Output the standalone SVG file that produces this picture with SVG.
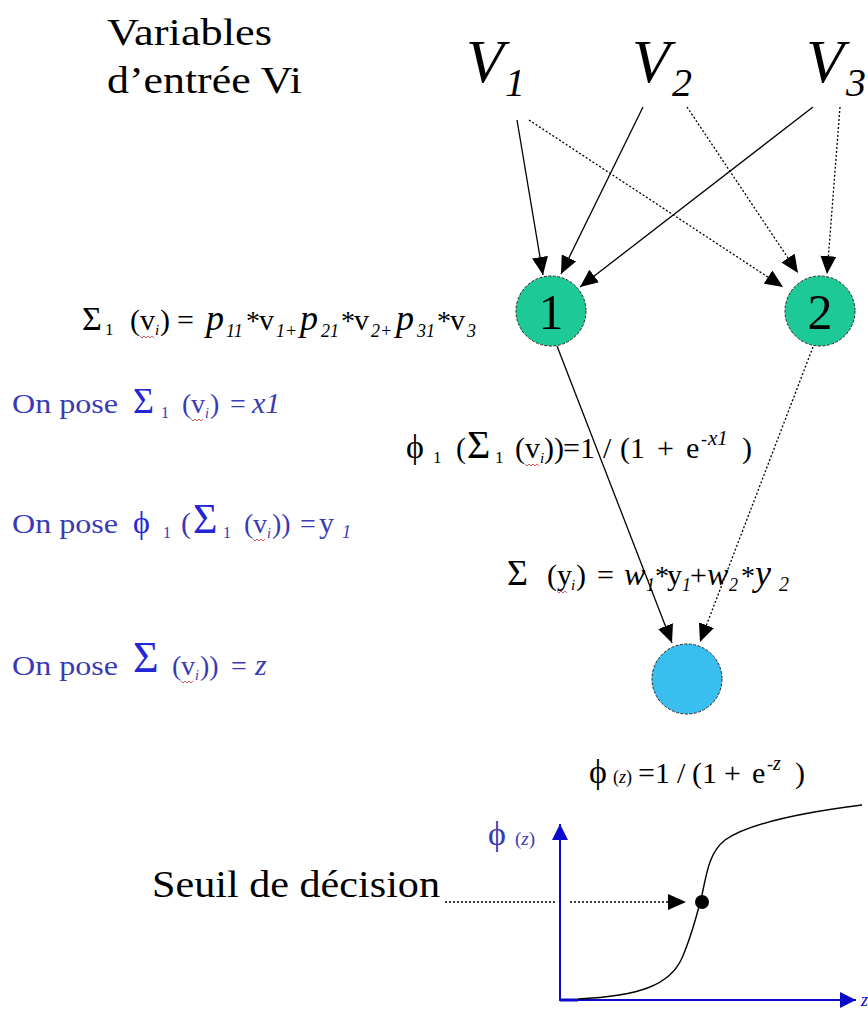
<svg xmlns="http://www.w3.org/2000/svg" width="868" height="1009" viewBox="0 0 868 1009">
<style>
.t{font-family:"Liberation Serif","Times New Roman",serif;}
.it{font-style:italic}
.bl{fill:#3a3ab5}
.bs{fill:#2525d8}
.k{fill:#000}
.solid{stroke:#000;stroke-width:1.3;fill:none}
.dot{stroke:#000;stroke-width:1.3;stroke-dasharray:2 2;fill:none}
.axis{stroke:#0a0acc;stroke-width:2;fill:none}
.wavy{stroke:#d04848;stroke-width:0.9;fill:none}
.node{stroke:#222;stroke-width:1;stroke-dasharray:3 1.5}
</style>
<defs>
<marker id="ah" markerWidth="18" markerHeight="16" refX="18" refY="8" orient="auto" markerUnits="userSpaceOnUse"><path d="M0,0 L18,8 L0,16 Z" fill="#000"/></marker>
<marker id="ahb" markerWidth="16" markerHeight="16" refX="16" refY="8" orient="auto" markerUnits="userSpaceOnUse"><path d="M0,0 L16,8 L0,16 Z" fill="#0a0acc"/></marker>
</defs>
<rect width="868" height="1009" fill="#fff"/>

<g id="title">
<text class="t k" x="107" y="45" font-size="38" textLength="165" lengthAdjust="spacingAndGlyphs">Variables</text>
<text class="t k" x="107" y="93" font-size="38" textLength="195" lengthAdjust="spacingAndGlyphs">d’entrée Vi</text>
</g>

<g id="V1"><text class="t it k" font-size="62"><tspan x="466" y="82">V</tspan><tspan x="505" y="96" font-size="40">1</tspan></text></g>
<g id="V2"><text class="t it k" font-size="62"><tspan x="632" y="82">V</tspan><tspan x="672" y="96" font-size="40">2</tspan></text></g>
<g id="V3"><text class="t it k" font-size="62"><tspan x="806" y="82">V</tspan><tspan x="846" y="96" font-size="40">3</tspan></text></g>

<g id="connectors">
<line class="solid" x1="517" y1="120" x2="543" y2="275" marker-end="url(#ah)"/>
<line class="dot" x1="529" y1="120" x2="783" y2="287" marker-end="url(#ah)"/>
<line class="solid" x1="643" y1="107" x2="561" y2="274" marker-end="url(#ah)"/>
<line class="dot" x1="687" y1="107" x2="798" y2="273" marker-end="url(#ah)"/>
<line class="solid" x1="813" y1="107" x2="580" y2="287" marker-end="url(#ah)"/>
<line class="dot" x1="840" y1="107" x2="827" y2="274" marker-end="url(#ah)"/>
<line class="solid" x1="557" y1="346" x2="672" y2="643" marker-end="url(#ah)"/>
<line class="dot" x1="813" y1="347" x2="700" y2="642" marker-end="url(#ah)"/>
<line class="dot" x1="445" y1="902" x2="556" y2="902"/>
<line class="dot" x1="570" y1="902" x2="686" y2="902" marker-end="url(#ah)"/>
</g>

<g id="node1"><circle class="node" cx="551" cy="311" r="35" fill="#1ec998"/><text class="t k" x="551" y="329" font-size="50" text-anchor="middle">1</text></g>
<g id="node2"><circle class="node" cx="820" cy="311" r="35" fill="#1ec998"/><text class="t k" x="820" y="329" font-size="50" text-anchor="middle">2</text></g>
<g id="output"><circle class="node" cx="687" cy="679" r="35" fill="#38bff0"/></g>

<g id="eq-sum1">
<text class="t k">
<tspan x="82" y="330" font-size="34">Σ</tspan>
<tspan x="105" y="335" font-size="17">1</tspan>
<tspan x="130" y="330" font-size="30">(</tspan>
<tspan x="140" y="330" font-size="30">v</tspan>
<tspan x="155" y="335" font-size="15" class="it">i</tspan>
<tspan x="160" y="330" font-size="30">)</tspan>
<tspan x="177" y="330" font-size="30">=</tspan>
<tspan x="206" y="330" font-size="36" class="it">p</tspan>
<tspan x="226" y="337" font-size="18" class="it">11</tspan>
<tspan x="246" y="330" font-size="28">*</tspan>
<tspan x="259" y="330" font-size="30">v</tspan>
<tspan x="276" y="337" font-size="18" class="it">1+</tspan>
<tspan x="300" y="330" font-size="36" class="it">p</tspan>
<tspan x="321" y="337" font-size="18" class="it">21</tspan>
<tspan x="341" y="330" font-size="28">*</tspan>
<tspan x="354" y="330" font-size="30">v</tspan>
<tspan x="371" y="337" font-size="18" class="it">2+</tspan>
<tspan x="396" y="330" font-size="36" class="it">p</tspan>
<tspan x="417" y="337" font-size="18" class="it">31</tspan>
<tspan x="437" y="330" font-size="28">*</tspan>
<tspan x="450" y="330" font-size="30">v</tspan>
<tspan x="467" y="337" font-size="18" class="it">3</tspan>
</text>
</g>

<g id="pose1">
<text class="t bl" x="12" y="413" font-size="28" textLength="106" lengthAdjust="spacingAndGlyphs">On pose</text>
<text class="t bl">
<tspan x="133" y="413" font-size="36" class="bs">Σ</tspan>
<tspan x="161" y="418" font-size="16">1</tspan>
<tspan x="182" y="413" font-size="28">(</tspan>
<tspan x="191" y="413" font-size="28">v</tspan>
<tspan x="205" y="418" font-size="14" class="it">i</tspan>
<tspan x="210" y="413" font-size="28">)</tspan>
<tspan x="230" y="413" font-size="28">=</tspan>
<tspan x="252" y="413" font-size="30" class="it">x1</tspan>
</text>
</g>

<g id="pose2">
<text class="t bl" x="12" y="533" font-size="28" textLength="106" lengthAdjust="spacingAndGlyphs">On pose</text>
<text class="t bl">
<tspan x="133" y="533" font-size="32" class="bs">ϕ</tspan>
<tspan x="163" y="538" font-size="16">1</tspan>
<tspan x="181" y="533" font-size="30">(</tspan>
<tspan x="193" y="533" font-size="42" class="bs">Σ</tspan>
<tspan x="223" y="538" font-size="16">1</tspan>
<tspan x="244" y="533" font-size="28">(</tspan>
<tspan x="253" y="533" font-size="28">v</tspan>
<tspan x="267" y="538" font-size="14" class="it">i</tspan>
<tspan x="272" y="533" font-size="28">))</tspan>
<tspan x="300" y="533" font-size="28">=</tspan>
<tspan x="319" y="533" font-size="30">y</tspan>
<tspan x="342" y="538" font-size="18" class="it">1</tspan>
</text>
</g>

<g id="pose3">
<text class="t bl" x="12" y="675" font-size="28" textLength="106" lengthAdjust="spacingAndGlyphs">On pose</text>
<text class="t bl">
<tspan x="133" y="672" font-size="44" class="bs">Σ</tspan>
<tspan x="172" y="675" font-size="28">(</tspan>
<tspan x="181" y="675" font-size="28">v</tspan>
<tspan x="195" y="680" font-size="14" class="it">i</tspan>
<tspan x="200" y="675" font-size="28">))</tspan>
<tspan x="231" y="675" font-size="28">=</tspan>
<tspan x="255" y="675" font-size="30" class="it">z</tspan>
</text>
</g>

<g id="eq-phi1">
<text class="t k">
<tspan x="406" y="458" font-size="34">ϕ</tspan>
<tspan x="433" y="463" font-size="17">1</tspan>
<tspan x="456" y="458" font-size="30">(</tspan>
<tspan x="467" y="458" font-size="40">Σ</tspan>
<tspan x="495" y="463" font-size="17">1</tspan>
<tspan x="515" y="458" font-size="30">(</tspan>
<tspan x="525" y="458" font-size="30">v</tspan>
<tspan x="540" y="463" font-size="15" class="it">i</tspan>
<tspan x="544" y="458" font-size="30">))</tspan>
<tspan x="563" y="458" font-size="30">=</tspan>
<tspan x="580" y="458" font-size="30">1</tspan>
<tspan x="603" y="458" font-size="30">/</tspan>
<tspan x="620" y="458" font-size="30">(</tspan>
<tspan x="630" y="458" font-size="30">1</tspan>
<tspan x="657" y="458" font-size="30">+</tspan>
<tspan x="686" y="458" font-size="30">e</tspan>
<tspan x="701" y="445" font-size="18">-</tspan>
<tspan x="708" y="445" font-size="21" class="it">x1</tspan>
<tspan x="742" y="458" font-size="30">)</tspan>
</text>
</g>

<g id="eq-sum2">
<text class="t k">
<tspan x="507" y="585" font-size="36">Σ</tspan>
<tspan x="547" y="585" font-size="30">(</tspan>
<tspan x="557" y="585" font-size="30">y</tspan>
<tspan x="571" y="590" font-size="15" class="it">i</tspan>
<tspan x="576" y="585" font-size="30">)</tspan>
<tspan x="597" y="585" font-size="30">=</tspan>
<tspan x="624" y="585" font-size="32" class="it">w</tspan>
<tspan x="646" y="591" font-size="18" class="it">1</tspan>
<tspan x="655" y="585" font-size="28">*</tspan>
<tspan x="667" y="585" font-size="30">y</tspan>
<tspan x="682" y="591" font-size="18" class="it">1</tspan>
<tspan x="690" y="585" font-size="30">+</tspan>
<tspan x="707" y="585" font-size="32" class="it">w</tspan>
<tspan x="729" y="591" font-size="18" class="it">2</tspan>
<tspan x="741" y="585" font-size="28">*</tspan>
<tspan x="755" y="585" font-size="36" class="it">y</tspan>
<tspan x="779" y="591" font-size="20" class="it">2</tspan>
</text>
</g>

<g id="eq-phiz">
<text class="t k">
<tspan x="589" y="783" font-size="34">ϕ</tspan>
<tspan x="613" y="783" font-size="18">(</tspan><tspan font-size="18" class="it">z</tspan><tspan font-size="18">)</tspan>
<tspan x="638" y="783" font-size="30">=</tspan>
<tspan x="655" y="783" font-size="30">1</tspan>
<tspan x="677" y="783" font-size="30">/</tspan>
<tspan x="692" y="783" font-size="30">(</tspan>
<tspan x="702" y="783" font-size="30">1</tspan>
<tspan x="724" y="783" font-size="30">+</tspan>
<tspan x="752" y="783" font-size="30">e</tspan>
<tspan x="767" y="770" font-size="18">-</tspan><tspan font-size="20" class="it">z</tspan>
<tspan x="795" y="783" font-size="30">)</tspan>
</text>
</g>

<g id="spellcheck">
<path class="wavy" d="M140 336 l2 2 l2 -2 l2 2 l2 -2 l2 2 l2 -2 l2 2"/>
<path class="wavy" d="M191 419 l2 2 l2 -2 l2 2 l2 -2 l2 2 l2 -2"/>
<path class="wavy" d="M253 539 l2 2 l2 -2 l2 2 l2 -2 l2 2 l2 -2"/>
<path class="wavy" d="M181 681 l2 2 l2 -2 l2 2 l2 -2 l2 2 l2 -2"/>
<path class="wavy" d="M525 464 l2 2 l2 -2 l2 2 l2 -2 l2 2 l2 -2 l2 2"/>
<path class="wavy" d="M557 591 l2 2 l2 -2 l2 2 l2 -2 l2 2"/>
</g>

<g id="plot">
<line class="axis" x1="560" y1="1000" x2="560" y2="824" marker-end="url(#ahb)"/>
<line class="axis" x1="559" y1="1000" x2="856" y2="1000" marker-end="url(#ahb)"/>
<line x1="560" y1="1000" x2="578" y2="1000" stroke="#0a0acc" stroke-width="3"/>
<path d="M578 999 C640 996 670 985 682 958 C692 935 697 915 702 895 C707 870 710 852 725 840 C745 826 790 814 862 805" fill="none" stroke="#000" stroke-width="1.4"/>
<circle cx="702" cy="902" r="7" fill="#000"/>
<text class="t bl"><tspan x="488" y="845" font-size="34">ϕ</tspan><tspan x="515" y="845" font-size="19">(</tspan><tspan font-size="19" class="it">z</tspan><tspan font-size="19">)</tspan></text>
<text class="t it" x="861" y="1006" font-size="18" fill="#0a0acc">z</text>
<text class="t k" x="152" y="897" font-size="38" textLength="288" lengthAdjust="spacingAndGlyphs">Seuil de décision</text>
</g>
</svg>
